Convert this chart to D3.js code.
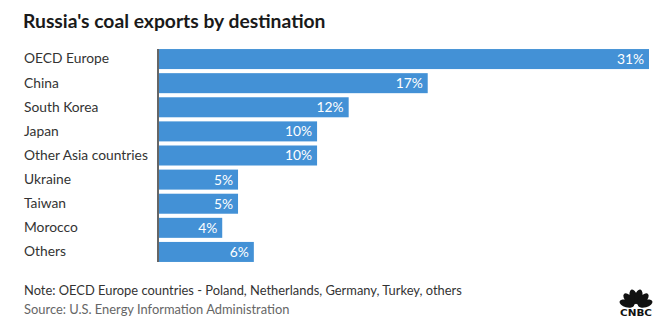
<!DOCTYPE html>
<html><head><meta charset="utf-8">
<script src="https://cdn.jsdelivr.net/npm/d3@7"></script>
<style>
html,body{margin:0;padding:0;background:#fff;}
svg{display:block;font-family:"Lato","Open Sans",sans-serif;}
</style></head>
<body>
<svg id="chart" width="660" height="325"></svg>
<script>
const categories = ["OECD Europe","China","South Korea","Japan","Other Asia countries","Ukraine","Taiwan","Morocco","Others"];
const shares = [31,17,12,10,10,5,5,4,6];
const valueLabels = ["31%","17%","12%","10%","10%","5%","5%","4%","6%"];
const title = "Russia's coal exports by destination";
const note = "Note: OECD Europe countries - Poland, Netherlands, Germany, Turkey, others";
const source = "Source: U.S. Energy Information Administration";

const svg = d3.select("#chart");
const x = d3.scaleLinear().domain([0,31]).range([159,649]);
const y = d3.scaleBand().domain(categories).range([47,264]).paddingInner(0.17).paddingOuter(0.085);

svg.append("text").attr("x",23).attr("y",28).attr("font-size",19.3).attr("font-weight",700)
  .attr("fill","#1a1a1a").text(title);

svg.append("g").selectAll("rect").data(categories).join("rect")
  .attr("x",x(0)).attr("y",d=>y(d)).attr("width",(d,i)=>x(shares[i])-x(0))
  .attr("height",y.bandwidth()).attr("fill","#4391d6");

svg.append("g").selectAll("text").data(categories).join("text")
  .attr("x",(d,i)=>x(shares[i])-5).attr("y",d=>y(d)+y.bandwidth()/2)
  .attr("dy","0.36em").attr("text-anchor","end").attr("fill","#fff").attr("font-size",13.8)
  .text((d,i)=>valueLabels[i]);

const yAxis = d3.axisLeft(y).tickSize(0).tickPadding(0);
const ag = svg.append("g").attr("transform","translate(158,0)").call(yAxis);
ag.select(".domain").attr("stroke","#333").attr("stroke-width",1.5)
  .attr("d",`M0,${y(categories[0])}V${y(categories[8])+y.bandwidth()}`);
ag.selectAll(".tick text").attr("x",24-158).attr("text-anchor","start")
  .attr("font-size",13.8).attr("fill","#333").attr("font-family","Lato, 'Open Sans', sans-serif");

svg.append("text").attr("x",24).attr("y",295).attr("font-size",12.9).attr("fill","#333").text(note);
svg.append("text").attr("x",24).attr("y",314).attr("font-size",12.9).attr("fill","#666").text(source);

// CNBC peacock logo (approximation)
const logo = svg.append("g").attr("transform","translate(636,306)");
const angles = [-75,-45,-15,15,45,75];
angles.forEach(a=>{
  logo.append("ellipse").attr("cx",0).attr("cy",-9.5).attr("rx",3.8).attr("ry",7.5)
    .attr("fill","#111").attr("transform",`rotate(${a})`);
});
logo.append("text").attr("x",0).attr("y",10).attr("text-anchor","middle")
  .attr("font-size",8.5).attr("font-weight",900).attr("fill","#111")
  .attr("textLength",32).attr("lengthAdjust","spacingAndGlyphs")
  .attr("font-family","'DejaVu Sans', sans-serif").text("CNBC");
</script>
</body></html>
